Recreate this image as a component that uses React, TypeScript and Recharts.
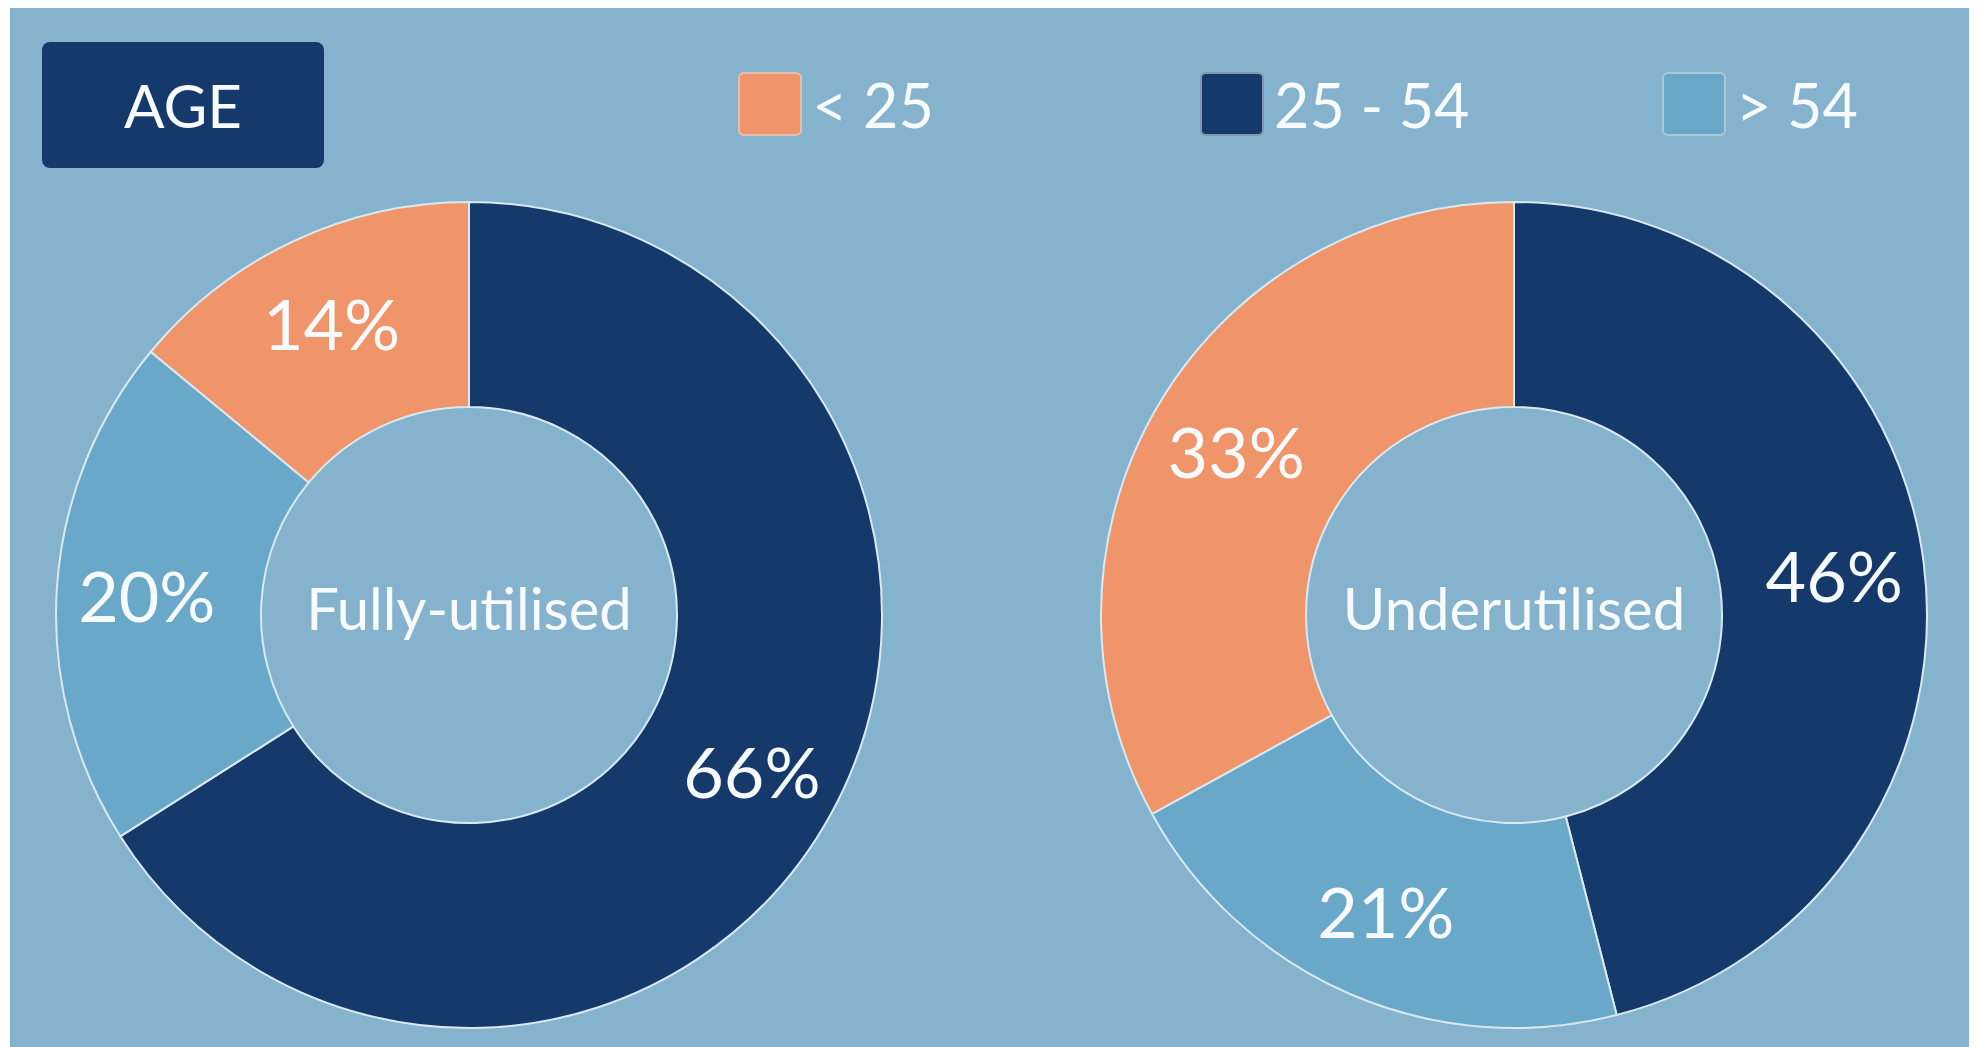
import { PieChart, Pie, Cell, Label } from "recharts"

// pie order (clockwise from 12 o'clock)
const ageGroups = ["25 - 54", "> 54", "< 25"]
const legendOrder = ["< 25", "25 - 54", "> 54"]
const fullyUtilised = [66, 20, 14]
const underutilised = [46, 21, 33]
const chartTitles = ["Fully-utilised", "Underutilised"]
const headline = "AGE"

const groupColors: Record<string, string> = {
  "< 25": "#f0956a",
  "25 - 54": "#15396a",
  "> 54": "#6aa8c9",
}

const BG = "#85b3cd"
const TEXT = "#f7fbfd"
const EDGE = "#d9e9f2"
const FONT = "Lato, 'Open Sans', sans-serif"

const W = 1967
const H = 1039
const CY = 607
const INNER = 208
const OUTER = 413

const toRows = (values: number[]) => ageGroups.map((g, i) => ({ name: g, value: values[i] }))

const RAD = Math.PI / 180

const renderPct = ({ cx, cy, midAngle, innerRadius, outerRadius, value }: any) => {
  const r = innerRadius + (outerRadius - innerRadius) * 0.56
  const x = cx + r * Math.cos(-midAngle * RAD)
  const y = cy + r * Math.sin(-midAngle * RAD)
  return (
    <text x={x} y={y} fill={TEXT} fontSize={70} fontFamily={FONT} textAnchor="middle" dominantBaseline="central">
      {`${value}%`}
    </text>
  )
}

const TopLegend = () => (
  <div style={{ position: "absolute", left: 0, top: 0, width: W, height: 170, fontFamily: FONT, color: TEXT }}>
    <div
      style={{
        position: "absolute",
        left: 32,
        top: 34,
        width: 282,
        height: 126,
        background: "#15396a",
        borderRadius: 8,
        display: "flex",
        alignItems: "center",
        justifyContent: "center",
        fontSize: 60,
      }}
    >
      {headline}
    </div>
    <div style={{ position: "absolute", left: 728, top: 63, display: "flex" }}>
      {legendOrder.map((g) => (
        <div key={g} style={{ width: 462, display: "flex", alignItems: "center", height: 66 }}>
          <div
            style={{
              width: 60,
              height: 60,
              background: groupColors[g],
              borderRadius: 6,
              border: "2px solid rgba(220,225,230,0.55)",
              marginRight: 10,
            }}
          />
          <span style={{ fontSize: 61, lineHeight: 1 }}>{g}</span>
        </div>
      ))}
    </div>
  </div>
)

export default function App() {
  const pies = [
    { cx: 459, title: chartTitles[0], rows: toRows(fullyUtilised) },
    { cx: 1504, title: chartTitles[1], rows: toRows(underutilised) },
  ]
  return (
    <div style={{ position: "relative", width: W, height: H, marginLeft: 2, background: BG }}>
      <PieChart width={W} height={H} margin={{ top: 0, right: 0, bottom: 0, left: 0 }}>
        {pies.map((p) => (
          <Pie
            key={p.title}
            data={p.rows}
            dataKey="value"
            nameKey="name"
            cx={p.cx}
            cy={CY}
            innerRadius={INNER}
            outerRadius={OUTER}
            startAngle={90}
            endAngle={-270}
            stroke={EDGE}
            strokeWidth={2}
            label={renderPct}
            labelLine={false}
            isAnimationActive={false}
            legendType="none"
          >
            {p.rows.map((r) => (
              <Cell key={r.name} fill={groupColors[r.name]} />
            ))}
            <Label
              content={() => (
                <text x={p.cx} y={CY - 8} fill={TEXT} fontSize={58} fontFamily={FONT} textAnchor="middle" dominantBaseline="central">
                  {p.title}
                </text>
              )}
            />
          </Pie>
        ))}
      </PieChart>
      <TopLegend />
    </div>
  )
}
